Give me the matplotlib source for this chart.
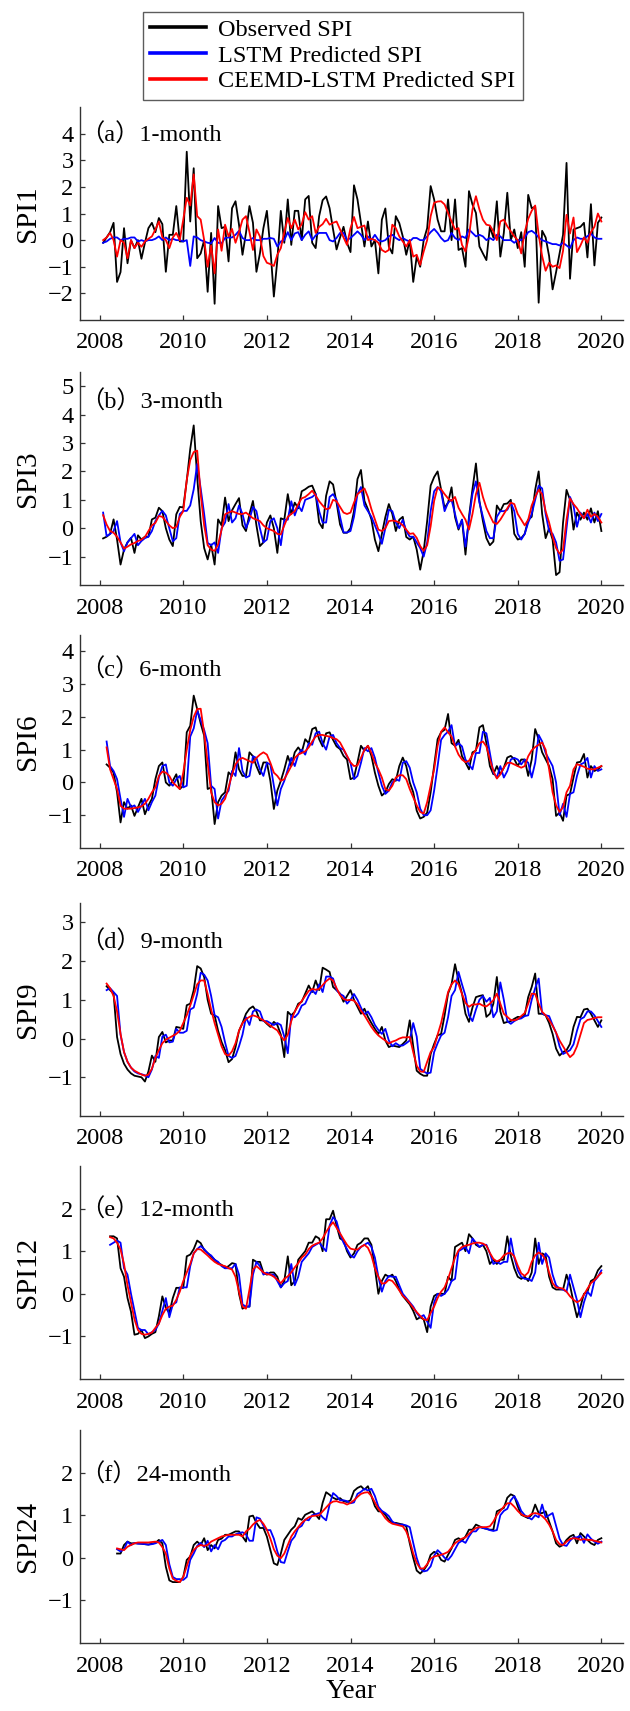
import numpy as np
import matplotlib
matplotlib.use('Agg')
import matplotlib.pyplot as plt
from matplotlib.lines import Line2D

plt.rcParams['font.family'] = ['Liberation Serif', 'Noto Sans CJK SC']
plt.rcParams['axes.unicode_minus'] = True

# ---- data (monthly SPI values, one row per year) ----
# first month index of each panel (1 = Feb 2008 ... 144 = Jan 2020)
first_month = [1, 1, 2, 2, 3, 5]

obs_a = [
    -0.1, 0.1, 0.3, 0.65, -1.57, -1.2, 0.45, -0.87, 0.0, -0.3, 0.0, -0.7,
    -0.1, 0.45, 0.65, 0.3, 0.83, 0.6, -1.19, 0.2, 0.2, 1.28, -0.05, -0.05,
    3.32, 0.7, 2.7, -0.68, -0.5, 0.0, -1.94, 0.27, -2.39, 1.28, 0.45, 0.5,
    -0.8, 1.2, 1.46, 0.58, -0.55, 0.27, 1.28, 0.65, -1.19, -0.5, 0.45, 1.1,
    -0.3, -2.12, -0.75, 1.1, -0.1, 1.53, -0.18, 1.1, 1.1, 0.0, 1.53, 1.66,
    -0.1, -0.3, 0.9, 1.5, 1.64, 1.2, 0.4, -0.35, 0.1, 0.5, -0.1, -0.45,
    2.06, 1.53, 0.65, -0.24, 0.7, -0.24, 0.0, -1.25, 0.77, 1.19, -0.24, -0.5,
    0.9, 0.64, 0.14, -0.55, 0.0, -1.57, -0.62, -1.0, 0.0, 0.45, 2.03, 1.53,
    0.77, 0.33, 0.33, 1.53, 0.0, 1.53, -0.37, -0.3, -1.0, 1.84, 1.34, 1.02,
    -0.24, -0.5, -0.75, 0.5, 0.1, 1.46, -0.62, 0.27, 1.78, 0.0, 0.4, -0.3,
    0.3, -1.0, 1.7, 1.2, 1.25, -2.35, 0.35, 0.1, -0.6, -1.85, -1.2, -0.5,
    0.2, 2.9, -1.45, 0.4, 0.45, 0.5, 0.65, -0.65, 1.35, -0.95, 0.65, 0.85,
]
lstm_a = [
    -0.1, -0.05, 0.05, 0.1, 0.1, 0.0, 0.05, 0.05, 0.1, 0.1, -0.05, 0.0,
    -0.05, 0.0, 0.0, 0.05, 0.14, 0.0, 0.1, 0.0, 0.05, 0.0, 0.0, -0.05,
    0.0, -0.97, 0.14, 0.1, 0.0, -0.05, -0.1, -0.12, 0.08, -0.1, -0.12, 0.08,
    0.1, 0.1, 0.2, 0.35, 0.08, 0.0, 0.0, 0.08, 0.0, 0.0, 0.05, 0.05,
    0.08, 0.05, -0.24, -0.05, 0.0, 0.3, 0.0, 0.25, 0.3, 0.0, 0.2, 0.33,
    0.0, 0.18, 0.27, 0.27, 0.27, 0.0, -0.05, 0.08, 0.27, 0.27, 0.0, 0.08,
    0.2, 0.33, 0.2, 0.0, 0.14, 0.0, 0.2, 0.0, -0.05, 0.0, 0.14, 0.2,
    0.08, 0.0, 0.08, 0.0, -0.05, 0.08, 0.08, 0.0, 0.0, 0.14, 0.3, 0.42,
    0.27, 0.08, -0.05, 0.0, 0.27, 0.08, 0.0, 0.14, 0.08, 0.4, 0.27, 0.14,
    0.2, 0.14, 0.0, 0.08, 0.0, 0.2, 0.14, 0.0, 0.0, 0.0, -0.1, 0.0,
    0.0, 0.1, 0.3, 0.35, 0.25, 0.1, 0.0, -0.05, -0.1, -0.15, -0.15, -0.2,
    -0.1, -0.2, -0.3, 0.0, 0.1, 0.05, 0.05, 0.15, 0.25, 0.1, 0.05, 0.05,
]
ceemd_a = [
    0.0, 0.1, 0.27, 0.0, -0.62, 0.0, -0.1, -0.68, 0.0, -0.3, -0.1, -0.25,
    -0.05, 0.05, 0.14, 0.4, 0.7, 0.1, 0.0, -0.3, 0.1, 0.27, 0.0, 0.77,
    1.59, 1.3, 2.47, 0.9, 0.77, 0.0, -1.0, -0.2, -1.25, 0.4, -0.4, 0.58,
    0.14, 0.42, -0.1, 0.3, 0.77, 0.9, 0.3, -0.37, 0.4, 0.14, -0.6, -0.85,
    -0.9, -0.97, -0.55, -0.3, 0.3, 0.83, 0.45, 0.77, 0.4, 0.6, 1.05, 0.77,
    0.9, 0.27, 0.5, 0.6, 0.8, 0.58, 0.65, 0.7, 0.4, 0.1, -0.18, 0.45,
    0.87, 0.45, 0.5, 0.55, 0.0, 0.05, 0.0, -0.1, -0.37, -0.45, -0.37, 0.58,
    0.45, 0.14, -0.05, -0.24, 0.0, -0.62, -0.55, -0.93, -0.43, 0.0, 0.9, 1.4,
    1.45, 1.46, 1.34, 1.02, 0.7, 0.4, 0.45, -0.18, -0.43, 0.14, 1.15, 1.65,
    1.15, 0.77, 0.58, 0.55, 0.33, 0.0, 0.7, 0.77, 0.52, 0.33, 0.14, 0.0,
    -0.5, 0.3, 0.8, 1.1, 1.3, 0.2, -0.6, -1.15, -0.85, -1.0, -0.95, -1.05,
    -0.4, 0.95, 0.25, 0.85, -0.45, -0.2, 0.1, -0.1, 0.3, 0.5, 1.0, 0.7,
]

obs_b = [
    -0.36, -0.3, -0.2, 0.31, -0.4, -1.28, -0.75, -0.5, -0.34, -0.87, -0.25, -0.4,
    -0.3, -0.3, 0.31, 0.37, 0.72, 0.6, 0.0, -0.4, -0.63, 0.49, 0.75, 0.73,
    1.67, 2.79, 3.62, 1.79, 0.25, -0.7, -1.1, -0.57, -1.28, 0.31, 0.1, 1.08,
    0.25, 0.63, 0.85, 1.06, 0.1, -0.1, 0.5, 0.96, 0.1, -0.63, -0.5, 0.2,
    0.45, 0.0, -0.87, 0.35, 0.3, 1.2, 0.5, 0.9, 0.7, 1.3, 1.37, 1.46,
    1.5, 1.2, 0.2, 0.0, 1.14, 1.65, 1.54, 0.9, 0.13, -0.16, -0.16, 0.0,
    0.6, 1.73, 2.05, 0.96, 0.67, 0.31, -0.4, -0.81, -0.2, 0.39, 0.85, 0.5,
    -0.1, 0.3, 0.4, -0.31, -0.4, -0.3, -0.75, -1.46, -0.81, 0.25, 1.5, 1.8,
    2.0, 1.37, 0.72, 0.9, 1.44, 0.39, -0.05, 0.3, -0.93, 0.4, 1.37, 2.28,
    0.96, 0.25, -0.35, -0.6, -0.47, 0.8, 0.6, 0.85, 0.87, 1.0, -0.2, -0.4,
    -0.35, -0.2, 0.3, 0.4, 1.35, 2.0, 0.5, -0.35, 0.0, -0.4, -1.65, -1.55,
    0.2, 1.35, 1.0, -0.05, 0.55, 0.3, 0.55, 0.3, 0.7, 0.2, 0.6, -0.1,
]
lstm_b = [
    0.55, -0.28, -0.2, -0.1, 0.25, -0.5, -0.81, -0.5, -0.35, -0.2, -0.6, -0.45,
    -0.35, -0.3, -0.1, 0.25, 0.45, 0.61, 0.45, 0.0, -0.46, -0.35, 0.5, 0.61,
    0.61, 0.8, 1.37, 2.26, 1.4, 0.5, -0.52, -0.6, -0.5, -0.87, 0.0, 0.2,
    0.85, 0.2, 0.35, 0.8, 0.5, 0.0, 0.3, 0.75, 0.6, 0.0, -0.5, -0.4,
    0.25, 0.35, 0.0, -0.6, 0.3, 0.3, 0.95, 0.45, 0.8, 0.6, 1.0, 1.05,
    1.1, 1.2, 0.6, 0.2, 0.2, 1.1, 1.2, 1.0, 0.4, -0.15, -0.15, -0.1,
    0.4, 1.2, 1.45, 0.8, 0.6, 0.4, 0.1, -0.2, -0.55, 0.0, 0.65, 0.6,
    0.2, 0.0, 0.3, -0.1, -0.3, -0.3, -0.5, -0.7, -1.0, -0.5, 0.6, 1.3,
    1.45, 1.3, 0.6, 0.9, 1.0, 0.5, 0.0, 0.3, -0.65, 0.3, 1.2, 1.65,
    0.9, 0.4, -0.1, -0.35, -0.35, 0.4, 0.6, 0.6, 0.65, 0.9, 0.6, -0.2,
    -0.4, -0.2, 0.2, 0.5, 1.0, 1.5, 1.4, 0.5, -0.1, -0.2, -0.5, -1.15,
    -1.1, 0.0, 1.1, 0.8, 0.05, 0.55, 0.35, 0.5, 0.2, 0.55, 0.25, 0.5,
]
ceemd_b = [
    0.46, 0.13, -0.1, -0.16, -0.3, -0.5, -0.72, -0.65, -0.57, -0.52, -0.45, -0.4,
    -0.31, -0.1, 0.1, 0.19, 0.43, 0.4, 0.25, 0.1, 0.0, 0.05, 0.4, 0.6,
    1.7, 2.4, 2.68, 2.73, 1.2, 0.1, -0.6, -0.75, -0.8, -0.57, -0.05, 0.49,
    0.55, 0.6, 0.55, 0.5, 0.5, 0.55, 0.45, 0.35, 0.3, 0.25, 0.1, 0.0,
    -0.05, -0.1, -0.2, -0.22, 0.1, 0.4, 0.5, 0.6, 0.85, 1.05, 1.1, 1.2,
    1.32, 1.15, 0.95, 0.8, 0.67, 0.7, 1.0, 0.95, 0.75, 0.55, 0.5, 0.55,
    0.9, 1.2, 1.3, 1.4, 1.1, 0.67, 0.31, -0.05, -0.1, 0.0, 0.25, 0.27,
    0.25, 0.2, 0.1, -0.05, -0.2, -0.18, -0.34, -0.63, -0.8, -0.6, 0.07, 0.96,
    1.44, 1.37, 1.2, 1.05, 0.96, 1.1, 0.72, 0.5, 0.3, -0.05, 0.5, 1.2,
    1.6, 1.1, 0.72, 0.45, 0.2, 0.15, 0.3, 0.5, 0.7, 0.9, 0.85, 0.5,
    0.3, 0.1, 0.3, 0.8, 1.1, 1.35, 1.2, 0.6, 0.2, -0.3, -0.7, -0.9,
    -0.75, 0.3, 1.05, 0.85, 0.7, 0.5, 0.35, 0.65, 0.4, 0.5, 0.4, 0.2,
]

obs_c = [
    0.55, 0.45, 0.3, -0.3, -1.22, -0.6, -0.8, -0.7, -1.02, -0.76, -0.5,
    -0.97, -0.7, -0.5, 0.1, 0.5, 0.61, 0.0, -0.1, 0.05, 0.25, -0.2, -0.1,
    1.53, 1.73, 2.65, 2.24, 1.8, 1.43, -0.2, -0.15, -1.27, -0.6, -0.4, -0.3,
    0.31, 0.2, 0.92, 0.4, 0.2, 0.2, 0.92, 0.8, 0.5, 0.25, 0.61, 0.61,
    0.05, -0.81, -0.25, 0.05, 0.4, 0.81, 0.5, 0.92, 1.07, 0.92, 1.32, 1.2,
    1.63, 1.68, 1.32, 1.1, 1.5, 1.53, 1.3, 1.1, 1.02, 0.81, 0.7, 0.1,
    0.15, 0.61, 1.12, 0.97, 1.12, 0.81, 0.3, -0.1, -0.4, -0.3, -0.05, 0.1,
    0.05, 0.5, 0.76, 0.5, 0.0, -0.3, -0.86, -1.1, -1.05, -0.92, -0.3, 0.5,
    1.32, 1.53, 1.61, 2.09, 1.2, 1.12, 1.3, 0.8, 0.61, 0.4, 0.92, 0.97,
    1.68, 1.75, 1.2, 0.5, 0.25, 0.5, 0.25, 0.45, 0.76, 0.81, 0.71, 0.5,
    0.7, 0.7, 0.2, 0.7, 1.63, 1.32, 0.92, 0.71, 0.5, 0.1, -1.02, -0.92,
    -1.17, -0.4, -0.35, 0.15, 0.61, 0.63, 0.87, 0.15, 0.5, 0.35, 0.4, 0.5,
]
lstm_c = [
    1.25, 0.5, 0.35, 0.1, -0.5, -1.05, -0.5, -0.75, -0.7, -0.9, -0.7,
    -0.5, -0.85, -0.6, -0.4, 0.15, 0.5, 0.55, 0.0, -0.1, 0.1, 0.2, -0.15,
    -0.1, 1.4, 1.65, 2.2, 1.9, 1.6, 1.2, -0.1, -0.2, -1.1, -0.55, -0.4,
    -0.25, 0.35, 0.2, 1.05, 0.35, 0.15, 0.2, 0.8, 0.75, 0.4, 0.2, 0.6,
    0.55, -0.1, -0.7, -0.2, 0.05, 0.4, 0.75, 0.5, 0.85, 1.0, 0.85, 1.2,
    1.15, 1.5, 1.55, 1.2, 1.0, 1.4, 1.45, 1.2, 1.05, 1.0, 0.8, 0.6,
    0.1, 0.2, 0.6, 1.05, 0.95, 1.05, 0.75, 0.3, -0.1, -0.35, -0.25, 0.0,
    0.1, 0.05, 0.6, 0.65, 0.45, 0.0, -0.3, -0.8, -1.0, -1.0, -0.85, -0.25,
    0.5, 1.3, 1.45, 1.55, 1.75, 1.1, 1.2, 1.1, 0.7, 0.55, 0.4, 0.9,
    0.9, 1.55, 1.5, 0.9, 0.3, 0.15, 0.5, 0.15, 0.35, 0.7, 0.75, 0.7,
    0.55, 0.7, 0.6, 0.15, 0.6, 1.45, 1.25, 0.9, 0.7, 0.5, 0.0, -1.0,
    -0.65, -1.05, -0.35, -0.3, 0.2, 0.55, 0.6, 0.75, 0.15, 0.5, 0.35, 0.4,
]
ceemd_c = [
    1.07, 0.4, 0.1, -0.2, -0.71, -0.8, -0.8, -0.8, -0.78, -0.76, -0.73,
    -0.65, -0.5, -0.3, -0.15, 0.2, 0.33, 0.3, 0.2, 0.0, -0.1, -0.2, 0.3,
    1.0, 1.6, 2.0, 2.24, 2.25, 1.5, 0.6, -0.3, -0.6, -0.7, -0.65, -0.5,
    -0.15, 0.25, 0.55, 0.7, 0.75, 0.7, 0.65, 0.6, 0.75, 0.85, 0.92, 0.85,
    0.6, 0.3, 0.2, 0.05, 0.1, 0.3, 0.5, 0.75, 0.85, 0.9, 0.95, 1.07,
    1.25, 1.4, 1.45, 1.45, 1.42, 1.4, 1.35, 1.32, 1.22, 1.02, 0.81, 0.61,
    0.5, 0.52, 0.75, 1.0, 1.12, 0.9, 0.6, 0.4, 0.15, -0.2, -0.25, -0.1,
    0.15, 0.22, 0.22, 0.1, -0.2, -0.45, -0.7, -0.9, -0.95, -0.6, -0.1, 0.4,
    1.12, 1.55, 1.68, 1.53, 1.4, 1.1, 0.85, 0.7, 0.62, 0.66, 0.85, 1.0,
    1.2, 1.25, 1.1, 0.71, 0.35, 0.12, 0.25, 0.45, 0.6, 0.6, 0.55, 0.5,
    0.45, 0.5, 0.8, 0.98, 1.08, 1.15, 1.22, 1.0, 0.4, -0.3, -0.7, -0.9,
    -0.75, -0.3, -0.1, 0.4, 0.56, 0.52, 0.48, 0.42, 0.4, 0.4, 0.45, 0.5,
]

obs_d = [
    1.35, 1.25, 1.16, 0.04, -0.4, -0.65, -0.8, -0.9, -0.96, -0.98, -1.0,
    -1.11, -0.85, -0.44, -0.6, 0.04, 0.17, -0.1, -0.05, -0.05, 0.3, 0.28, 0.25,
    0.86, 0.9, 1.25, 1.87, 1.81, 1.59, 1.0, 0.64, 0.6, 0.2, -0.09, -0.3,
    -0.61, -0.53, -0.22, 0.2, 0.4, 0.64, 0.77, 0.83, 0.7, 0.47, 0.47, 0.38,
    0.3, 0.43, 0.35, 0.1, -0.48, 0.69, 0.6, 0.69, 0.9, 0.95, 1.16, 1.37,
    1.2, 1.5, 1.25, 1.83, 1.78, 1.72, 1.33, 1.25, 1.16, 0.95, 1.1, 1.25,
    1.0, 0.82, 0.64, 0.77, 0.56, 0.4, 0.25, 0.12, 0.3, -0.05, -0.22, -0.18,
    -0.2, -0.22, -0.14, -0.05, 0.47, -0.2, -0.83, -0.91, -0.96, -0.96, -0.4, -0.14,
    0.08, 0.12, 0.6, 1.16, 1.4, 1.92, 1.5, 1.16, 0.64, 0.43, 0.8, 1.07,
    1.1, 1.12, 0.56, 0.64, 0.9, 1.59, 0.7, 0.4, 0.43, 0.45, 0.51, 0.56,
    0.55, 0.6, 1.07, 1.33, 1.68, 0.64, 0.64, 0.6, 0.4, 0.12, -0.26, -0.44,
    -0.35, -0.3, -0.14, 0.3, 0.56, 0.55, 0.75, 0.77, 0.64, 0.47, 0.3, 0.47,
]
lstm_d = [
    1.25, 1.3, 1.2, 1.1, 0.1, -0.35, -0.6, -0.75, -0.85, -0.9, -0.92,
    -0.95, -1.0, -0.8, -0.45, -0.5, 0.05, 0.1, -0.1, -0.08, 0.25, 0.15, 0.15,
    0.2, 0.75, 0.8, 1.15, 1.7, 1.65, 1.5, 1.1, 0.6, 0.55, 0.3, -0.1,
    -0.45, -0.5, -0.45, -0.2, 0.1, 0.55, 0.35, 0.7, 0.75, 0.7, 0.45, 0.45,
    0.4, 0.35, 0.4, 0.35, 0.05, -0.38, 0.6, 0.55, 0.65, 0.85, 0.9, 1.1,
    1.25, 1.15, 1.4, 1.2, 1.6, 1.6, 1.55, 1.25, 1.15, 1.1, 0.9, 1.0,
    1.15, 1.0, 0.8, 0.62, 0.7, 0.55, 0.35, 0.22, 0.12, 0.25, -0.05, -0.2,
    -0.12, -0.18, -0.18, -0.12, -0.05, 0.4, 0.05, -0.78, -0.85, -0.9, -0.88, -0.35,
    -0.12, 0.08, 0.15, 0.55, 1.1, 1.25, 1.72, 1.4, 1.1, 0.6, 0.45, 0.75,
    1.0, 1.1, 0.95, 1.05, 0.55, 0.7, 1.45, 1.0, 0.45, 0.38, 0.45, 0.5,
    0.52, 0.58, 0.6, 1.0, 1.3, 1.55, 0.65, 0.6, 0.58, 0.35, 0.15, -0.2,
    -0.4, -0.35, -0.3, -0.15, 0.2, 0.5, 0.55, 0.7, 0.7, 0.6, 0.45, 0.3,
]
ceemd_d = [
    1.42, 1.3, 1.1, 0.7, 0.12, -0.35, -0.6, -0.75, -0.83, -0.88, -0.93,
    -0.96, -0.93, -0.78, -0.5, -0.3, -0.12, -0.03, 0.02, 0.07, 0.12, 0.2, 0.4,
    0.6, 0.85, 1.12, 1.4, 1.5, 1.5, 1.15, 0.75, 0.4, 0.1, -0.2, -0.4,
    -0.44, -0.33, -0.12, 0.2, 0.4, 0.5, 0.56, 0.6, 0.57, 0.52, 0.47, 0.4,
    0.33, 0.27, 0.21, 0.06, -0.05, 0.1, 0.45, 0.7, 0.85, 0.97, 1.1, 1.23,
    1.28, 1.26, 1.28, 1.38, 1.48, 1.55, 1.5, 1.3, 1.12, 1.02, 0.99, 1.0,
    0.98, 0.88, 0.72, 0.6, 0.45, 0.3, 0.18, 0.08, 0.01, -0.05, -0.13, -0.08,
    -0.05, 0.0, 0.03, 0.03, 0.04, -0.35, -0.7, -0.85, -0.86, -0.6, -0.35, -0.22,
    0.1, 0.4, 0.8, 1.2, 1.4, 1.5, 1.4, 1.15, 0.92, 0.82, 0.88, 0.88,
    0.9, 0.85, 0.83, 0.9, 0.99, 1.16, 0.9, 0.64, 0.56, 0.48, 0.47, 0.5,
    0.58, 0.66, 0.9, 1.16, 1.15, 0.9, 0.69, 0.6, 0.48, 0.33, 0.15, -0.05,
    -0.2, -0.35, -0.48, -0.4, -0.2, 0.1, 0.4, 0.48, 0.5, 0.53, 0.55, 0.55,
]

obs_e = [
    1.35, 1.35, 1.3, 0.6, 0.4, -0.1, -0.42, -0.96, -0.94, -0.85,
    -1.04, -1.0, -0.94, -0.9, -0.53, -0.06, -0.33, -0.45, -0.1, 0.14, 0.14, 0.14,
    0.88, 0.92, 1.05, 1.25, 1.19, 1.03, 0.96, 0.88, 0.8, 0.72, 0.68, 0.6,
    0.65, 0.72, 0.7, 0.0, -0.35, -0.3, -0.3, 0.8, 0.75, 0.75, 0.5, 0.45,
    0.5, 0.5, 0.4, 0.15, 0.3, 0.88, 0.2, 0.3, 0.8, 0.9, 1.0, 1.2,
    1.2, 1.35, 1.3, 1.0, 1.75, 1.75, 1.95, 1.6, 1.3, 1.25, 1.0, 0.85,
    0.95, 1.15, 1.2, 1.3, 1.3, 1.15, 0.6, 0.0, 0.3, 0.45, 0.4, 0.45,
    0.3, 0.1, -0.05, -0.15, -0.25, -0.4, -0.6, -0.55, -0.6, -0.9, -0.3, -0.05,
    0.0, 0.0, 0.0, 0.4, 0.3, 1.1, 1.15, 1.2, 1.0, 1.4, 1.3, 1.15,
    1.1, 1.15, 1.0, 0.7, 0.8, 0.7, 0.8, 0.8, 1.35, 0.9, 0.6, 0.4,
    0.35, 0.4, 0.3, 0.5, 1.3, 0.7, 0.95, 0.9, 0.4, 0.15, 0.1, 0.1,
    0.1, 0.45, 0.2, -0.2, -0.55, -0.3, 0.0, 0.05, 0.3, 0.35, 0.55, 0.65,
]
lstm_e = [
    1.15, 1.2, 1.25, 1.2, 0.6, 0.45, 0.0, -0.4, -0.8, -0.85,
    -0.85, -0.95, -0.9, -0.85, -0.7, -0.4, -0.1, -0.55, -0.25, -0.2, 0.15, 0.15,
    0.15, 0.65, 0.95, 1.05, 1.12, 1.05, 0.95, 0.9, 0.8, 0.75, 0.65, 0.6,
    0.6, 0.6, 0.7, 0.45, -0.25, -0.3, -0.3, 0.45, 0.75, 0.65, 0.45, 0.5,
    0.45, 0.45, 0.3, 0.15, 0.25, 0.3, 0.7, 0.2, 0.4, 0.75, 0.85, 0.95,
    1.1, 1.15, 1.2, 1.1, 1.0, 1.6, 1.8, 1.7, 1.4, 1.2, 1.05, 0.9,
    0.85, 1.0, 1.1, 1.15, 1.2, 1.1, 0.85, 0.4, 0.05, 0.3, 0.42, 0.4,
    0.4, 0.2, 0.0, -0.1, -0.2, -0.3, -0.45, -0.55, -0.5, -0.65, -0.8, -0.2,
    0.0, -0.05, 0.0, 0.1, 0.3, 0.35, 1.0, 1.05, 1.1, 0.95, 1.3, 1.2,
    1.1, 1.15, 1.15, 0.95, 0.7, 0.75, 0.7, 0.75, 0.75, 1.3, 0.85, 0.55,
    0.4, 0.35, 0.35, 0.3, 0.5, 1.2, 0.7, 0.95, 0.85, 0.45, 0.2, 0.12,
    0.1, 0.05, 0.45, 0.15, -0.15, -0.55, -0.2, 0.05, -0.05, 0.3, 0.4, 0.55,
]
ceemd_e = [
    1.33, 1.3, 1.2, 1.04, 0.7, 0.2, -0.2, -0.6, -0.85, -0.94,
    -0.96, -0.94, -0.91, -0.8, -0.7, -0.5, -0.35, -0.3, -0.28, -0.14, 0.05, 0.3,
    0.5, 0.7, 0.95, 1.05, 1.04, 0.97, 0.9, 0.82, 0.75, 0.7, 0.67, 0.65,
    0.6, 0.57, 0.4, 0.05, -0.3, -0.35, 0.1, 0.57, 0.65, 0.58, 0.5, 0.46,
    0.45, 0.4, 0.33, 0.25, 0.35, 0.41, 0.5, 0.62, 0.72, 0.85, 0.92, 1.05,
    1.13, 1.17, 1.2, 1.3, 1.45, 1.58, 1.68, 1.55, 1.42, 1.28, 1.15, 1.06,
    1.04, 1.04, 1.1, 1.15, 1.08, 0.9, 0.6, 0.4, 0.24, 0.25, 0.33, 0.3,
    0.2, 0.08, -0.05, -0.12, -0.22, -0.33, -0.43, -0.52, -0.6, -0.62, -0.45, -0.3,
    -0.1, 0.05, 0.15, 0.35, 0.6, 0.85, 1.02, 1.1, 1.13, 1.15, 1.18, 1.2,
    1.2, 1.18, 1.13, 0.96, 0.82, 0.76, 0.8, 0.9, 0.95, 0.96, 0.88, 0.66,
    0.48, 0.42, 0.5, 0.75, 0.9, 0.97, 0.92, 0.8, 0.5, 0.25, 0.15, 0.14,
    0.12, 0.05, -0.06, -0.14, -0.2, -0.15, -0.02, 0.12, 0.25, 0.32, 0.41, 0.49,
]

obs_f = [
    0.1, 0.1, 0.3, 0.38, 0.34, 0.34, 0.34, 0.33,
    0.32, 0.31, 0.33, 0.35, 0.42, 0.34, -0.21, -0.53, -0.57, -0.57, -0.57, -0.45,
    -0.05, 0.03, 0.3, 0.38, 0.3, 0.46, 0.18, 0.3, 0.22, 0.42, 0.45, 0.54,
    0.54, 0.58, 0.62, 0.62, 0.5, 0.38, 0.97, 0.99, 0.82, 0.7, 0.7, 0.5,
    0.18, -0.13, -0.17, 0.1, 0.42, 0.54, 0.66, 0.74, 0.93, 0.89, 1.01, 1.05,
    1.09, 1.01, 0.91, 1.29, 1.54, 1.48, 1.41, 1.37, 1.4, 1.33, 1.31, 1.35,
    1.57, 1.64, 1.68, 1.6, 1.68, 1.45, 1.21, 1.09, 1.09, 1.01, 0.89, 0.82,
    0.82, 0.8, 0.78, 0.74, 0.34, 0.0, -0.3, -0.37, -0.29, -0.17, 0.07, 0.14,
    0.1, -0.05, -0.09, 0.07, 0.22, 0.42, 0.46, 0.4, 0.5, 0.66, 0.66, 0.78,
    0.74, 0.7, 0.68, 0.66, 0.66, 1.09, 1.13, 1.17, 1.41, 1.49, 1.45, 1.21,
    1.01, 0.97, 0.93, 1.01, 1.25, 1.05, 1.05, 1.09, 0.85, 0.62, 0.34, 0.26,
    0.3, 0.42, 0.5, 0.54, 0.34, 0.58, 0.5, 0.42, 0.34, 0.3, 0.42, 0.46,
]
lstm_f = [
    0.2, 0.15, 0.2, 0.38, 0.3, 0.35, 0.33, 0.33,
    0.32, 0.31, 0.32, 0.34, 0.38, 0.42, 0.3, -0.15, -0.45, -0.5, -0.5, -0.52,
    -0.45, -0.05, 0.1, 0.28, 0.35, 0.25, 0.4, 0.15, 0.3, 0.2, 0.38, 0.42,
    0.5, 0.5, 0.55, 0.58, 0.6, 0.55, 0.4, 0.4, 0.95, 0.92, 0.75, 0.65,
    0.65, 0.45, 0.15, -0.1, -0.12, 0.15, 0.4, 0.5, 0.7, 0.75, 0.9, 0.88,
    1.0, 1.02, 1.05, 0.95, 0.88, 1.25, 1.52, 1.45, 1.35, 1.35, 1.33, 1.28,
    1.3, 1.5, 1.55, 1.62, 1.58, 1.62, 1.45, 1.2, 1.1, 1.05, 0.98, 0.85,
    0.8, 0.78, 0.78, 0.76, 0.72, 0.35, 0.0, -0.25, -0.32, -0.3, -0.2, 0.05,
    0.18, 0.1, 0.0, -0.05, 0.05, 0.2, 0.35, 0.4, 0.35, 0.5, 0.62, 0.62,
    0.72, 0.7, 0.68, 0.65, 0.63, 0.65, 1.0, 1.1, 1.15, 1.35, 1.45, 1.3,
    1.1, 1.0, 0.95, 0.9, 1.0, 0.95, 1.25, 0.95, 1.0, 1.05, 0.75, 0.45,
    0.3, 0.28, 0.4, 0.48, 0.48, 0.52, 0.35, 0.55, 0.45, 0.38, 0.33, 0.38,
]
ceemd_f = [
    0.22, 0.2, 0.18, 0.26, 0.3, 0.34, 0.36, 0.36,
    0.36, 0.36, 0.37, 0.38, 0.36, 0.25, 0.1, -0.25, -0.49, -0.54, -0.57, -0.45,
    -0.2, 0.05, 0.18, 0.26, 0.3, 0.28, 0.3, 0.38, 0.42, 0.46, 0.5, 0.52,
    0.54, 0.54, 0.54, 0.54, 0.5, 0.62, 0.68, 0.78, 0.85, 0.89, 0.8, 0.66,
    0.45, 0.2, 0.05, -0.01, 0.1, 0.3, 0.5, 0.62, 0.72, 0.82, 0.89, 0.95,
    0.98, 0.99, 1.0, 1.09, 1.18, 1.27, 1.32, 1.33, 1.3, 1.29, 1.25, 1.29,
    1.35, 1.43, 1.5, 1.53, 1.54, 1.45, 1.3, 1.15, 1.05, 0.93, 0.85, 0.8,
    0.78, 0.76, 0.74, 0.62, 0.4, 0.1, -0.12, -0.25, -0.25, -0.15, -0.02, 0.03,
    0.05, 0.07, 0.1, 0.14, 0.24, 0.34, 0.4, 0.45, 0.48, 0.56, 0.64, 0.7,
    0.72, 0.72, 0.72, 0.74, 0.85, 1.0, 1.1, 1.2, 1.28, 1.28, 1.2, 1.1,
    1.02, 0.98, 0.97, 1.03, 1.05, 1.03, 0.98, 0.9, 0.78, 0.62, 0.42, 0.32,
    0.3, 0.38, 0.44, 0.46, 0.45, 0.42, 0.44, 0.42, 0.42, 0.4, 0.38, 0.36,
]

observed = [obs_a, obs_b, obs_c, obs_d, obs_e, obs_f]
lstm = [lstm_a, lstm_b, lstm_c, lstm_d, lstm_e, lstm_f]
ceemd = [ceemd_a, ceemd_b, ceemd_c, ceemd_d, ceemd_e, ceemd_f]

panel_titles = ['（a）1-month', '（b）3-month', '（c）6-month',
                '（d）9-month', '（e）12-month', '（f）24-month']
ylabels = ['SPI1', 'SPI3', 'SPI6', 'SPI9', 'SPI12', 'SPI24']
ylims = [(-3, 5), (-2, 5.5), (-2, 4.5), (-2, 3.5), (-2, 3), (-2, 3)]
yticks = [range(-2, 5), range(-1, 6), range(-1, 5), range(-1, 4),
          range(-1, 3), range(-1, 3)]
xticks = list(range(2008, 2021, 2))
legend_labels = ['Observed SPI', 'LSTM Predicted SPI', 'CEEMD-LSTM Predicted SPI']

# ---- layout (figure pixels -> fractions) ----
W_PX, H_PX = 630, 1711
ax_left, ax_right = 80.4 / W_PX, 622.7 / W_PX
ax_h = 213 / H_PX
ax_bottom_px = [320, 585, 848, 1116, 1379, 1643]
title_y = [0.869, 0.861, 0.836, 0.818, 0.793, 0.789]

fig = plt.figure(figsize=(W_PX / 100, H_PX / 100), dpi=100)
fig.patch.set_facecolor('white')

for i in range(6):
    ax = fig.add_axes([ax_left, 1 - ax_bottom_px[i] / H_PX,
                       ax_right - ax_left, ax_h])
    t = 2008 + np.arange(first_month[i], 145) / 12.0
    ax.plot(t, observed[i], color='black', lw=1.3)
    ax.plot(t, lstm[i], color='#0000ff', lw=1.3)
    ax.plot(t, ceemd[i], color='#ff0000', lw=1.3)

    ax.set_xlim(2007.54, 2020.51)
    ax.set_ylim(*ylims[i])
    ax.set_xticks(xticks)
    ax.set_yticks(list(yticks[i]))

    for side in ['top', 'right']:
        ax.spines[side].set_visible(False)
    for side in ['left', 'bottom']:
        ax.spines[side].set_linewidth(1.0)
        ax.spines[side].set_color('#333333')
    ax.tick_params(axis='both', direction='in', length=3.5, width=0.9,
                   color='#333333', labelsize=17.5)
    ax.tick_params(axis='x', pad=9)
    ax.tick_params(axis='y', pad=5)

    ax.set_ylabel(ylabels[i], fontsize=21)
    ax.yaxis.set_label_coords(-0.072, 0.5)
    ax.text(0.0, title_y[i], panel_titles[i], transform=ax.transAxes,
            fontsize=17.5, va='center', ha='left')

    if i == 5:
        ax.set_xlabel('Year', fontsize=20, labelpad=2)

handles = [Line2D([], [], color=c, lw=2.6) for c in ['black', '#0000ff', '#ff0000']]
leg = fig.legend(handles, legend_labels, loc='upper left',
                 bbox_to_anchor=(143 / W_PX, 1 - 11.7 / H_PX),
                 fontsize=17.5, frameon=True, fancybox=False,
                 handlelength=2.3, handletextpad=0.5, labelspacing=0.15,
                 borderpad=0.3, borderaxespad=0)
leg.get_frame().set_edgecolor('#333333')
leg.get_frame().set_linewidth(1.0)

fig.savefig('out.png', dpi=100)
